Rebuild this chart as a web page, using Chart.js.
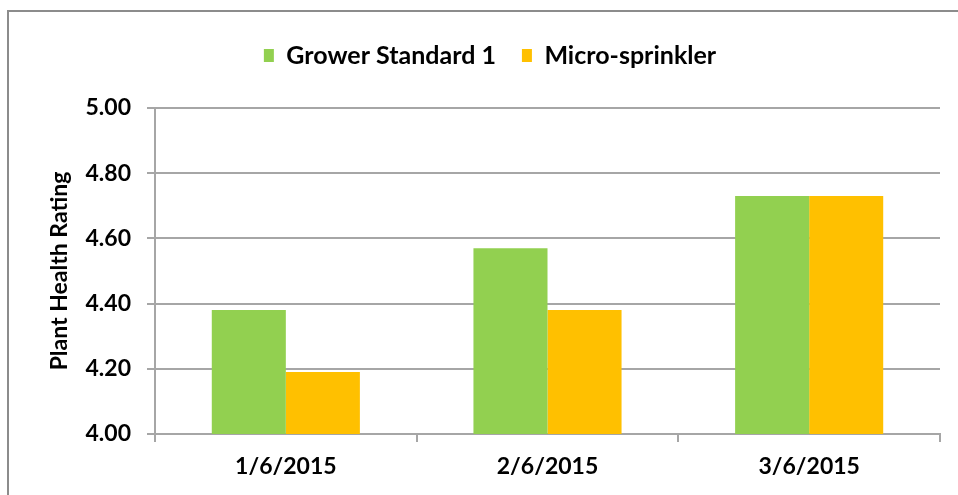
<html>
<head>
<meta charset="UTF-8">
<script src="https://cdn.jsdelivr.net/npm/chart.js@4/dist/chart.umd.min.js"></script>
<style>
body { margin: 0; background: #fff; }
#wrap { position: absolute; left: 0; top: 0; width: 958px; height: 495px; }
</style>
</head>
<body>
<div id="wrap"><canvas id="rating" width="958" height="495"></canvas></div>

<script>
// data
var dates = ['1/6/2015', '2/6/2015', '3/6/2015'];
var growerStandard = [4.38, 4.57, 4.73];
var microSprinkler = [4.19, 4.38, 4.73];

var FONT = 'Lato, "Open Sans", sans-serif';
var GRID = '#a6a6a6';

// grey frame round the chart, running off the right and bottom edges
var frame = {
	id: 'frame',
	beforeDraw: function(chart) {
		var c = chart.ctx;
		c.save();
		c.strokeStyle = '#8c8c8c';
		c.lineWidth = 2;
		c.strokeRect(8, 11, 1000, 600);
		c.restore();
	}
};

// give the legend some room below it
var legendGap = {
	id: 'legendGap',
	beforeInit: function(chart) {
		var fit = chart.legend.fit;
		chart.legend.fit = function() {
			fit.bind(chart.legend)();
			this.height += 30;
		};
	}
};

const ctx = document.getElementById('rating').getContext('2d');
const chart = new Chart(ctx, {
	type: 'bar',
	data: {
		labels: dates,
		datasets: [{
			label: 'Grower Standard 1',
			data: growerStandard,
			backgroundColor: '#92d050',
			borderWidth: 0
		}, {
			label: 'Micro-sprinkler',
			data: microSprinkler,
			backgroundColor: '#ffc000',
			borderWidth: 0
		}]
	},
	options: {
		responsive: false,
		animation: false,
		layout: { padding: { left: 40, right: 18, top: 17, bottom: 0 } },
		datasets: { bar: { categoryPercentage: 0.566, barPercentage: 1.0 } },
		plugins: {
			tooltip: { enabled: false },
			legend: {
				position: 'top',
				labels: {
					boxWidth: 10,
					boxHeight: 13,
					padding: 26,
					color: '#000',
					font: { family: FONT, size: 25, weight: 'bold' }
				}
			}
		},
		scales: {
			x: {
				grid: { display: true, offset: true, drawOnChartArea: false, color: GRID, lineWidth: 2, tickLength: 8 },
				border: { color: GRID, width: 2 },
				ticks: { color: '#000', padding: 11, font: { family: FONT, size: 23, weight: 'bold' } },
				afterFit: function(s) { s.height = 61; }
			},
			y: {
				min: 4.0,
				max: 5.0,
				ticks: {
					stepSize: 0.2,
					color: '#000',
					padding: 16,
					font: { family: FONT, size: 23, weight: 'bold' },
					callback: function(v) { return v.toFixed(2); }
				},
				grid: { color: GRID, lineWidth: 2, tickLength: 8 },
				border: { color: GRID, width: 2 },
				title: {
					display: true,
					text: 'Plant Health Rating',
					color: '#000',
					padding: { top: 6, bottom: 0 },
					font: { family: FONT, size: 23, weight: 'bold' }
				},
				afterFit: function(s) { s.width = 115; }
			}
		}
	},
	plugins: [frame, legendGap]
});
</script>
</body>
</html>
